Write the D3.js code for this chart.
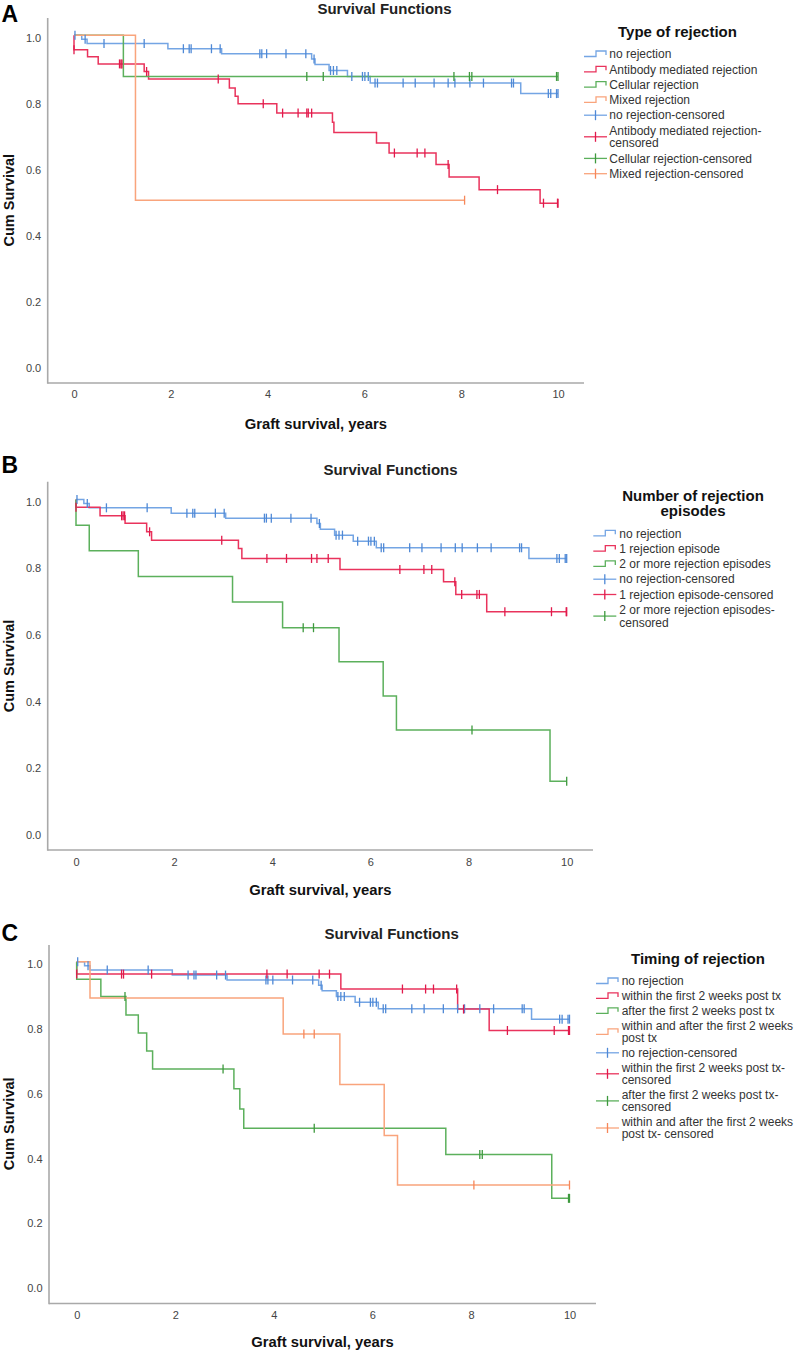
<!DOCTYPE html>
<html><head><meta charset="utf-8">
<script src="https://cdn.jsdelivr.net/npm/d3@7"></script>
<style>body{margin:0;background:#fff}svg{display:block}text{font-family:"Liberation Sans",Arial,Helvetica,sans-serif}</style>
</head><body>
<svg id="chart" width="800" height="1350"></svg>
<script>
// ---------- tick labels ----------
const xTickValues = [0, 2, 4, 6, 8, 10];
const yTickValues = [0, 0.2, 0.4, 0.6, 0.8, 1.0];
const chartTitle = "Survival Functions";
const xAxisTitle = "Graft survival, years";
const yAxisTitle = "Cum Survival";

// ---------- no rejection (same in all panels) ----------
const noRejTimes  = [0.16, 0.27, 1.94, 3.05, 4.91, 4.98, 5.27, 5.65, 6.12, 9.23];
const noRejSurv   = [0.988, 0.975, 0.959, 0.944, 0.928, 0.911, 0.893, 0.875, 0.855, 0.823];
const noRejCensor = [0.02, 0.23, 0.62, 1.45, 2.26, 2.38, 2.42, 2.84, 3.02, 3.84, 3.88, 3.98, 4.38, 4.79, 4.96, 5.30, 5.36, 5.43, 5.74, 5.96, 6.01, 6.08, 6.22, 6.27, 6.80, 7.05, 7.44, 7.73, 7.87, 8.18, 8.46, 9.04, 9.08, 9.80, 9.85, 9.97, 10.0];

// ---------- Panel A: type of rejection ----------
const amrTimes  = [0, 0.28, 0.50, 1.45, 1.54, 3.21, 3.33, 3.39, 4.19, 5.34, 5.37, 6.25, 6.51, 7.48, 7.75, 8.37, 9.63];
const amrSurv   = [0.956, 0.935, 0.913, 0.890, 0.867, 0.840, 0.815, 0.792, 0.764, 0.736, 0.705, 0.673, 0.643, 0.608, 0.570, 0.532, 0.491];
const amrCensor = [0, 0.94, 0.97, 0.99, 1.50, 2.98, 3.91, 4.31, 4.63, 4.81, 4.84, 4.91, 6.62, 7.09, 7.25, 7.73, 8.75, 9.70, 9.99, 10.0];
const cellTimes  = [1.02];
const cellSurv   = [0.875];
const cellCensor = [4.81, 5.15, 7.85, 8.17, 8.22, 9.97, 10.0];
const mixedTimes  = [1.27];
const mixedSurv   = [0.5];
const mixedCensor = [8.07];
const legendA = ["no rejection", "Antibody mediated rejection", "Cellular rejection", "Mixed rejection",
  "no rejection-censored", "Antibody mediated rejection-|censored", "Cellular rejection-censored", "Mixed rejection-censored"];

// ---------- Panel B: number of rejection episodes ----------
const oneEpTimes  = [0, 0.49, 1.0, 1.44, 1.54, 3.31, 3.38, 5.38, 7.49, 7.74, 8.37];
const oneEpSurv   = [0.977, 0.951, 0.929, 0.903, 0.878, 0.853, 0.823, 0.790, 0.753, 0.715, 0.663];
const oneEpCensor = [0, 0.93, 0.96, 0.99, 1.50, 2.97, 3.89, 4.29, 4.80, 4.91, 5.14, 6.60, 7.09, 7.25, 7.72, 7.86, 8.17, 8.22, 8.74, 9.69, 9.99, 10.0];
const twoEpTimes  = [0, 0.27, 1.27, 3.19, 4.21, 5.36, 6.26, 6.53, 9.66];
const twoEpSurv   = [0.923, 0.846, 0.769, 0.692, 0.615, 0.513, 0.410, 0.308, 0.154];
const twoEpCensor = [4.63, 4.84, 8.07, 10.0];
const legendB = ["no rejection", "1 rejection episode", "2 or more rejection episodes",
  "no rejection-censored", "1 rejection episode-censored", "2 or more rejection episodes-|censored"];

// ---------- Panel C: timing of rejection ----------
const earlyTimes  = [0, 5.36, 7.73, 8.37];
const earlySurv   = [0.962, 0.916, 0.854, 0.788];
const earlyCensor = [0, 0.91, 0.95, 1.52, 3.86, 4.27, 4.92, 5.13, 6.61, 7.08, 7.24, 7.71, 7.85, 8.74, 9.69, 9.98, 10.0];
const lateTimes  = [0, 0.49, 1.0, 1.25, 1.42, 1.54, 3.19, 3.31, 3.39, 7.49, 9.64];
const lateSurv   = [0.946, 0.893, 0.836, 0.780, 0.725, 0.669, 0.608, 0.546, 0.486, 0.405, 0.270];
const lateCensor = [0.98, 2.97, 4.82, 8.18, 8.23, 9.98, 10.0];
const bothTimes  = [0.27, 4.19, 5.34, 6.24, 6.51];
const bothSurv   = [0.888, 0.777, 0.621, 0.464, 0.311];
const bothCensor = [4.61, 4.82, 8.06, 10.0];
const legendC = ["no rejection", "within the first 2 weeks post tx", "after the first 2 weeks post tx",
  "within and after the first 2 weeks|post tx", "no rejection-censored", "within the first 2 weeks post tx-|censored",
  "after the first 2 weeks post tx-|censored", "within and after the first 2 weeks|post tx- censored"];

// ---------- colours ----------
const COL = {
  blue:   {line: "#74a5e4", mark: "#4f89d6"},
  red:    {line: "#e9335c", mark: "#e11a4c"},
  green:  {line: "#5cb05c", mark: "#3e993e"},
  orange: {line: "#f9a47c", mark: "#f6875a"}
};

const panels = [
  { letter: "A", letterY: 21.7, titleX: 384.5, titleY: 14,
    axisX: 47.7, axisTop: 18, axisY: 383, axisRight: 584,
    x0: 74, x10: 558, y1: 35.2, y0: 365.2, tickY: 394.5, xTitleY: 428.5,
    legendTitle: ["Type of rejection"], legendTitleX: 677.5, legendTitleY: 36.5,
    legendSymX: 584, legendTextX: 609.3, legendRow0: 54, legendStep: 15.3, legendLine: 12.6,
    legend: legendA,
    series: [
      {t: noRejTimes, s: noRejSurv, c: noRejCensor, col: COL.blue},
      {t: amrTimes, s: amrSurv, c: amrCensor, col: COL.red},
      {t: cellTimes, s: cellSurv, c: cellCensor, col: COL.green},
      {t: mixedTimes, s: mixedSurv, c: mixedCensor, col: COL.orange}
    ] },
  { letter: "B", letterY: 473.3, titleX: 390.5, titleY: 475.4,
    axisX: 47.7, axisTop: 481.7, axisY: 850, axisRight: 593,
    x0: 76, x10: 566.7, y1: 499.5, y0: 832.5, tickY: 862, xTitleY: 895.3,
    legendTitle: ["Number of rejection", "episodes"], legendTitleX: 693, legendTitleY: 501.3,
    legendSymX: 593.3, legendTextX: 619.3, legendRow0: 533.3, legendStep: 15.3, legendLine: 12.6,
    legend: legendB,
    series: [
      {t: noRejTimes, s: noRejSurv, c: noRejCensor, col: COL.blue},
      {t: oneEpTimes, s: oneEpSurv, c: oneEpCensor, col: COL.red},
      {t: twoEpTimes, s: twoEpSurv, c: twoEpCensor, col: COL.green}
    ] },
  { letter: "C", letterY: 940.5, titleX: 391.7, titleY: 938.7,
    axisX: 49, axisTop: 945, axisY: 1303.5, axisRight: 596,
    x0: 76.7, x10: 569.5, y1: 961.8, y0: 1285.8, tickY: 1315.5, xTitleY: 1347,
    legendTitle: ["Timing of rejection"], legendTitleX: 698, legendTitleY: 963.6,
    legendSymX: 596, legendTextX: 621.7, legendRow0: 981, legendStep: 14.9, legendLine: 12.2,
    legend: legendC,
    series: [
      {t: noRejTimes, s: noRejSurv, c: noRejCensor, col: COL.blue},
      {t: earlyTimes, s: earlySurv, c: earlyCensor, col: COL.red},
      {t: lateTimes, s: lateSurv, c: lateCensor, col: COL.green},
      {t: bothTimes, s: bothSurv, c: bothCensor, col: COL.orange}
    ] }
];

const svg = d3.select("#chart");

function survAt(times, surv, t) {
  let v = 1;
  for (let i = 0; i < times.length; i++) if (times[i] <= t) v = surv[i];
  return v;
}

function drawPanel(p) {
  const g = svg.append("g");
  const x = d3.scaleLinear().domain([0, 10]).range([p.x0, p.x10]);
  const y = d3.scaleLinear().domain([0, 1]).range([p.y0, p.y1]);

  g.append("text").attr("x", 1.5).attr("y", p.letterY).attr("font-size", 23)
    .attr("font-weight", "bold").attr("fill", "#000").text(p.letter);
  g.append("text").attr("x", p.titleX).attr("y", p.titleY).attr("text-anchor", "middle")
    .attr("font-size", 15).attr("font-weight", "bold").attr("fill", "#222").text(chartTitle);

  // y axis
  const ya = g.append("g").attr("transform", `translate(${p.axisX},0)`)
    .call(d3.axisLeft(y).tickValues(yTickValues).tickSize(0).tickPadding(6.5).tickFormat(d3.format(".1f")));
  ya.select(".domain").remove();
  ya.selectAll("text").attr("font-size", 11).attr("fill", "#444").attr("font-family", null)
    .attr("transform", "translate(0,2.3)");
  // x axis
  const xa = g.append("g").attr("transform", `translate(0,${p.axisY})`)
    .call(d3.axisBottom(x).tickValues(xTickValues).tickSize(0).tickPadding(p.tickY - p.axisY - 3.9));
  xa.select(".domain").remove();
  xa.selectAll("text").attr("font-size", 11).attr("fill", "#444").attr("font-family", null);

  g.append("line").attr("x1", p.axisX).attr("x2", p.axisX).attr("y1", p.axisTop).attr("y2", p.axisY + 0.8)
    .attr("stroke", "#a9a9a9").attr("stroke-width", 1.6);
  g.append("line").attr("x1", p.axisX).attr("x2", p.axisRight).attr("y1", p.axisY).attr("y2", p.axisY)
    .attr("stroke", "#a9a9a9").attr("stroke-width", 1.6);

  g.append("text").attr("x", (p.axisX + p.axisRight) / 2).attr("y", p.xTitleY).attr("text-anchor", "middle")
    .attr("font-size", 14.8).attr("font-weight", "bold").attr("fill", "#111").text(xAxisTitle);
  const ym = y(0.5);
  g.append("text").attr("transform", `translate(13.6,${ym}) rotate(-90)`).attr("text-anchor", "middle")
    .attr("font-size", 14.5).attr("font-weight", "bold").attr("fill", "#111").text(yAxisTitle);

  // curves
  const line = d3.line().x(d => x(d[0])).y(d => y(d[1])).curve(d3.curveStepAfter);
  p.series.forEach(sr => {
    const pts = [[0, 1]];
    sr.t.forEach((t, i) => pts.push([t, sr.s[i]]));
    const tEnd = Math.max(d3.max(sr.c), d3.max(sr.t));
    pts.push([tEnd, sr.s[sr.s.length - 1]]);
    g.append("path").attr("d", line(pts)).attr("fill", "none")
      .attr("stroke", sr.col.line).attr("stroke-width", 1.5);
  });
  p.series.forEach(sr => {
    g.append("g").selectAll("line").data(sr.c).join("line")
      .attr("x1", d => x(d)).attr("x2", d => x(d))
      .attr("y1", d => y(survAt(sr.t, sr.s, d)) - 4.5)
      .attr("y2", d => y(survAt(sr.t, sr.s, d)) + 4.5)
      .attr("stroke", sr.col.mark).attr("stroke-width", 1.3);
  });

  // legend
  p.legendTitle.forEach((tl, i) => {
    g.append("text").attr("x", p.legendTitleX).attr("y", p.legendTitleY + i * 14.7)
      .attr("text-anchor", "middle").attr("font-size", 15).attr("font-weight", "bold")
      .attr("fill", "#111").text(tl);
  });
  const n = p.series.length;
  let rowY = p.legendRow0;
  p.legend.forEach((lab, i) => {
    const lines = lab.split("|");
    const sr = p.series[i % n];
    const censored = i >= n;
    const cy = rowY + (lines.length - 1) * p.legendLine / 2;
    const sx = p.legendSymX;
    if (!censored) {
      g.append("path").attr("d", `M${sx},${cy + 2.5}H${sx + 12}V${cy - 3}H${sx + 22}V${cy + 1}`)
        .attr("fill", "none").attr("stroke", sr.col.line).attr("stroke-width", 1.3);
    } else {
      g.append("line").attr("x1", sx).attr("x2", sx + 23).attr("y1", cy).attr("y2", cy)
        .attr("stroke", sr.col.line).attr("stroke-width", 1.3);
      g.append("line").attr("x1", sx + 11.5).attr("x2", sx + 11.5).attr("y1", cy - 5).attr("y2", cy + 5)
        .attr("stroke", sr.col.mark).attr("stroke-width", 1.3);
    }
    lines.forEach((ln, j) => {
      g.append("text").attr("x", p.legendTextX).attr("y", rowY + j * p.legendLine + 4.2)
        .attr("font-size", 12).attr("fill", "#333").text(ln);
    });
    rowY += p.legendStep + (lines.length - 1) * p.legendLine;
  });
}

panels.forEach(drawPanel);
</script>
</body></html>
